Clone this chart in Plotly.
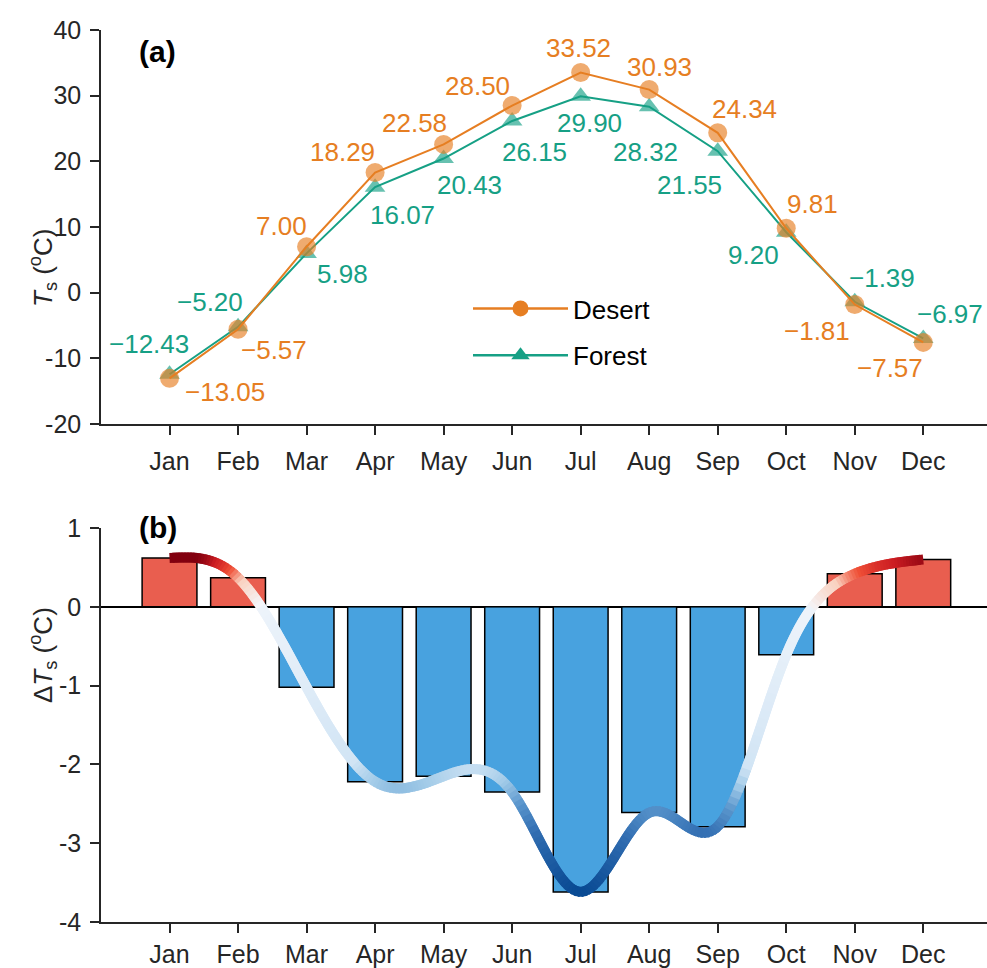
import numpy as np
import plotly.graph_objects as go

months = ["Jan", "Feb", "Mar", "Apr", "May", "Jun", "Jul", "Aug", "Sep", "Oct", "Nov", "Dec"]
desert = [-13.05, -5.57, 7.00, 18.29, 22.58, 28.50, 33.52, 30.93, 24.34, 9.81, -1.81, -7.57]
forest = [-12.43, -5.20, 5.98, 16.07, 20.43, 26.15, 29.90, 28.32, 21.55, 9.20, -1.39, -6.97]
delta = [0.62, 0.37, -1.02, -2.22, -2.15, -2.35, -3.62, -2.61, -2.79, -0.61, 0.42, 0.60]
ticks_a = [-20, -10, 0, 10, 20, 30, 40]
ticks_b = [-4, -3, -2, -1, 0, 1]

# label offsets in pixels (style)
desert_off = [(55, -14), (36, -21), (-25, 21), (-33, 21), (-29, 21), (-35, 20),
              (-2, 25), (10, 23), (27, 24), (26, 24), (-38, -26), (-33, -26)]
forest_off = [(-21, 30), (-28, 25), (36, -21), (27, -28), (26, -26), (22, -31),
              (9, -27), (-4, -45), (-28, -34), (-33, -23), (27, 24), (27, 24)]

ORANGE = "#E67E22"
TEAL = "#16A085"
FONT = "Liberation Sans, Arial, Helvetica, sans-serif"
AX = "#262626"

xs = np.arange(1, len(months) + 1)

fig = go.Figure()

# ---------- panel (a) ----------
fig.add_trace(go.Scatter(
    x=xs, y=forest, mode="lines+markers", showlegend=False,
    line=dict(color=TEAL, width=2),
    marker=dict(symbol="triangle-up", size=18, color="rgba(22,160,133,0.65)",
                line=dict(width=0)),
    xaxis="x", yaxis="y"))
fig.add_trace(go.Scatter(
    x=xs, y=desert, mode="lines+markers", showlegend=False,
    line=dict(color=ORANGE, width=2),
    marker=dict(symbol="circle", size=19, color="rgba(230,126,34,0.65)",
                line=dict(width=0)),
    xaxis="x", yaxis="y"))
# legend entries
fig.add_trace(go.Scatter(
    x=[None], y=[None], mode="lines+markers", name="Desert", legendgroup="d",
    line=dict(color=ORANGE, width=2.5),
    marker=dict(symbol="circle", size=16, color=ORANGE), xaxis="x", yaxis="y"))
fig.add_trace(go.Scatter(
    x=[None], y=[None], mode="lines+markers", name="Forest", legendgroup="f",
    line=dict(color=TEAL, width=2.5),
    marker=dict(symbol="triangle-up", size=16, color=TEAL), xaxis="x", yaxis="y"))


def fmt(v):
    return f"{v:.2f}".replace("-", "\u2212")


annotations = []
for i, v in enumerate(desert):
    dx, dy = desert_off[i]
    annotations.append(dict(x=xs[i], y=v, xref="x", yref="y", text=fmt(v),
                            showarrow=False, xshift=dx, yshift=dy,
                            font=dict(size=26, color=ORANGE, family=FONT)))
for i, v in enumerate(forest):
    dx, dy = forest_off[i]
    annotations.append(dict(x=xs[i], y=v, xref="x", yref="y", text=fmt(v),
                            showarrow=False, xshift=dx, yshift=dy,
                            font=dict(size=26, color=TEAL, family=FONT)))

# ---------- panel (b) ----------
bar_colors = ["rgba(231,76,60,0.9)" if v > 0 else "rgba(52,152,219,0.9)" for v in delta]
fig.add_trace(go.Bar(
    x=xs, y=delta, width=0.8, showlegend=False,
    marker=dict(color=bar_colors, line=dict(color="black", width=1.5)),
    xaxis="x2", yaxis="y2"))

# smooth curve through bar tops (natural cubic spline rendering)
yv = np.array(delta, dtype=float)
n = len(yv)
A = np.zeros((n, n))
b = np.zeros(n)
A[0, 0] = 1
A[-1, -1] = 1
for i in range(1, n - 1):
    A[i, i - 1] = 1
    A[i, i] = 4
    A[i, i + 1] = 1
    b[i] = 6 * (yv[i - 1] - 2 * yv[i] + yv[i + 1])
M = np.linalg.solve(A, b)
xf = np.linspace(1, n, 24 * (n - 1) + 1)
yf = np.empty_like(xf)
for k, x in enumerate(xf):
    i = min(int(np.floor(x)) - 1, n - 2)
    t = x - (i + 1)
    yf[k] = (M[i] * (1 - t) ** 3 / 6 + M[i + 1] * t ** 3 / 6
             + (yv[i] - M[i] / 6) * (1 - t) + (yv[i + 1] - M[i + 1] / 6) * t)


def lerp_color(stops, t):
    t = min(max(t, 0.0), 1.0)
    for j in range(len(stops) - 1):
        t0, c0 = stops[j]
        t1, c1 = stops[j + 1]
        if t <= t1:
            f = (t - t0) / (t1 - t0) if t1 > t0 else 0
            return tuple(c0[m] + (c1[m] - c0[m]) * f for m in range(3))
    return stops[-1][1]


red_stops = [(0.0, (245, 246, 250)), (0.5, (250, 210, 192)), (0.72, (240, 80, 55)),
             (0.9, (205, 30, 35)), (1.0, (130, 0, 15))]
blue_stops = [(0.0, (238, 244, 251)), (0.55, (210, 229, 245)), (0.62, (160, 202, 232)),
              (0.7, (90, 150, 205)), (0.8, (50, 110, 178)), (1.0, (10, 75, 148))]
vmax = max(delta)
vmin = min(delta)


def curve_color(v):
    if v >= 0:
        c = lerp_color(red_stops, v / vmax)
    else:
        c = lerp_color(blue_stops, v / vmin)
    return "rgb(%d,%d,%d)" % c


for k in range(len(xf) - 2):
    seg_x = xf[k:k + 3]
    seg_y = yf[k:k + 3]
    vm = yf[k + 1]
    fig.add_trace(go.Scatter(
        x=seg_x, y=seg_y, mode="lines", showlegend=False, hoverinfo="skip",
        line=dict(color=curve_color(vm), width=10),
        xaxis="x2", yaxis="y2"))

# ---------- layout ----------
W, H = 987, 968
xl = 101 / W
top_a, bot_a = 1 - 30 / H, 1 - 424 / H
top_b, bot_b = 1 - 528 / H, 1 - 922 / H

xaxis_common = dict(
    range=[0, 12.93], tickmode="array", tickvals=list(xs), ticktext=months,
    ticks="outside", ticklen=9, tickwidth=1.5, tickcolor=AX,
    showline=True, linecolor=AX, linewidth=1.5, showgrid=False, zeroline=False,
    tickfont=dict(size=25, color=AX, family=FONT),
    domain=[xl, 1.0], fixedrange=True, automargin=False)

yaxis_common = dict(
    tickmode="array", ticks="outside", ticklen=9, tickwidth=1.5, tickcolor=AX,
    showline=True, linecolor=AX, linewidth=1.5, showgrid=False,
    tickfont=dict(size=25, color=AX, family=FONT), ticklabelstandoff=4,
    automargin=False, fixedrange=True)

fig.update_layout(
    width=W, height=H,
    margin=dict(l=0, r=0, t=0, b=0, autoexpand=False),
    paper_bgcolor="white", plot_bgcolor="white",
    font=dict(family=FONT, color=AX),
    bargap=0.2,
    xaxis=dict(**xaxis_common, anchor="y", ticklabelstandoff=5),
    yaxis=dict(**yaxis_common, range=[-20, 40], domain=[bot_a, top_a], anchor="x",
               tickvals=ticks_a, ticktext=[str(t) for t in ticks_a], zeroline=False),
    xaxis2=dict(**xaxis_common, anchor="y2", ticklabelstandoff=0),
    yaxis2=dict(**yaxis_common, range=[-4, 1], domain=[bot_b, top_b], anchor="x2",
                tickvals=ticks_b, ticktext=[str(t) for t in ticks_b],
                zeroline=True, zerolinecolor="black", zerolinewidth=1.5),
    legend=dict(x=468 / W, y=1 - 285 / H, xanchor="left", yanchor="top",
                bgcolor="rgba(0,0,0,0)", borderwidth=0, itemwidth=95,
                tracegroupgap=10, font=dict(size=26, color="black", family=FONT),
                traceorder="grouped"),
    showlegend=True,
)

annotations += [
    dict(x=137 / W, y=1 - 33 / H, xref="paper", yref="paper", text="<b>(a)</b>",
         showarrow=False, font=dict(size=30, color="black", family=FONT)),
    dict(x=137 / W, y=1 - 527 / H, xref="paper", yref="paper", text="<b>(b)</b>",
         showarrow=False, font=dict(size=30, color="black", family=FONT)),
    dict(x=23 / W, y=1 - 227 / H, xref="paper", yref="paper",
         text="<i>T</i><sub>s</sub> (<sup>o</sup>C)", textangle=-90,
         showarrow=False, font=dict(size=26, color=AX, family=FONT)),
    dict(x=23 / W, y=1 - 705 / H, xref="paper", yref="paper",
         text="Δ<i>T</i><sub>s</sub> (<sup>o</sup>C)", textangle=-90,
         showarrow=False, font=dict(size=26, color=AX, family=FONT)),
]
fig.update_layout(annotations=annotations)

fig.write_html("out.html")
